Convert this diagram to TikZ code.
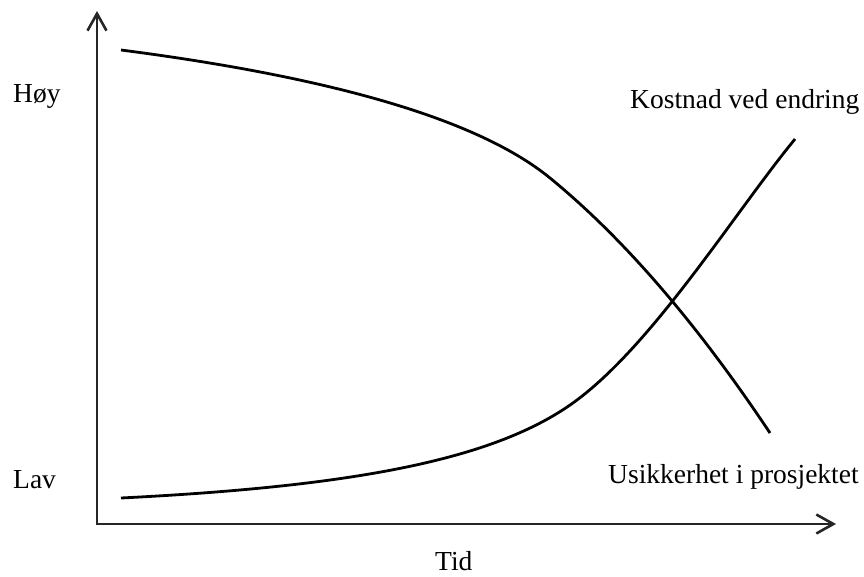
\documentclass[tikz,border=0pt]{standalone}
\usepackage{fontspec}
\setmainfont{Liberation Serif}
\usetikzlibrary{arrows.meta}
\begin{document}
\begin{tikzpicture}[x=1pt,y=-1pt,
  axisline/.style={line width=1.4pt,draw=black!85,
    -{Straight Barb[length=17pt,width=19pt,line width=2.6pt]}},
  curve/.style={line width=2.8pt,line cap=butt},
  lbl/.style={anchor=base west,inner sep=0pt,font=\fontsize{27.5}{30}\selectfont}]
\useasboundingbox (0,0) rectangle (864,576);
\fill[white] (0,0) rectangle (864,576);

% axes
\coordinate (O) at (97,524);
\coordinate (ytip) at (97,11);
\coordinate (xtip) at (836,524);
\draw[axisline] ([yshift=-0.7pt]O) -- (ytip);
\draw[axisline] ([xshift=-0.7pt]O) -- (xtip);

% uncertainty falls over time
\coordinate (u0) at (121,50);
\coordinate (u1) at (550,178);
\coordinate (u2) at (770,433);
\draw[curve] (u0) .. controls (337,78) and (480,120.7) .. (u1)
                  .. controls (623.3,238) and (696.7,323) .. (u2);

% cost of change rises over time
\coordinate (k0) at (121,498);
\coordinate (k1) at (577,400);
\coordinate (k2) at (795,139);
\draw[curve] (k0) .. controls (353.4,486.3) and (497,460) .. (k1)
                  .. controls (655,341.5) and (735,212.2) .. (k2);

% labels
\node[lbl] (hoy) at (13,102) {Høy};
\node[lbl] (lav) at (13,488) {Lav};
\node[lbl] (tid) at (435,570) {Tid};
\node[lbl] (kost) at (630,108) {Kostnad ved endring};
\node[lbl] (usik) at (608,483) {Usikkerhet i prosjektet};
\end{tikzpicture}
\end{document}
